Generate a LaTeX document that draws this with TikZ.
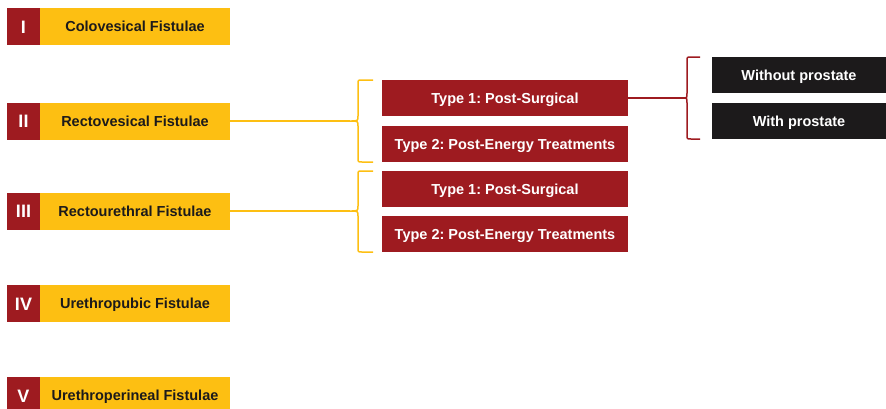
\documentclass[tikz,border=0pt]{standalone}
\usepackage{fontspec}
\setmainfont{Liberation Sans}
\frenchspacing
\usetikzlibrary{positioning, calc}
\definecolor{fred}{HTML}{9E1B20}
\definecolor{fyellow}{HTML}{FDBF12}
\definecolor{fblack}{HTML}{1C1A1B}

\begin{document}
\begin{tikzpicture}[
    x=1pt, y=-1pt,
    node distance=0pt,
    num/.style={rectangle, fill=fred, text=white, minimum width=33pt, minimum height=37pt, inner sep=0pt, outer sep=0pt, text height=13pt, text depth=0pt, font=\bfseries\fontsize{18}{18}\selectfont},
    fist/.style={rectangle, fill=fyellow, text=fblack, minimum width=190pt, minimum height=37pt, inner sep=0pt, outer sep=0pt, text height=10pt, text depth=0pt, font=\bfseries\fontsize{14.5}{14.5}\selectfont},
    kind/.style={rectangle, fill=fred, text=white, minimum width=246pt, minimum height=36pt, inner sep=0pt, outer sep=0pt, text height=10pt, text depth=0pt, font=\bfseries\fontsize{14.5}{14.5}\selectfont},
    sub/.style={rectangle, fill=fblack, text=white, minimum width=174pt, minimum height=36pt, inner sep=0pt, outer sep=0pt, text height=10pt, text depth=0pt, font=\bfseries\fontsize{14.5}{14.5}\selectfont},
    brace/.style={line width=1.5pt, fyellow},
    redbrace/.style={line width=1.5pt, fred}
]
    \useasboundingbox (0,0) rectangle (886,408);

    \node[num] (n1) at (23.5,26.5) {I};
    \node[fist, right=of n1] (f1) {Colovesical Fistulae};
    \node[num] (n2) at (23.5,121) {II};
    \node[fist, right=of n2] (f2) {Rectovesical Fistulae};
    \node[num] (n3) at (23.5,211) {III};
    \node[fist, right=of n3] (f3) {Rectourethral Fistulae};
    \node[num] (n4) at (23.5,303.5) {IV};
    \node[fist, right=of n4] (f4) {Urethropubic Fistulae};
    \node[num] (n5) at (23.5,395.5) {V};
    \node[fist, right=of n5] (f5) {Urethroperineal Fistulae};

    \node[kind] (r2a) at (505,98) {Type 1: Post-Surgical};
    \node[kind, below=10pt of r2a] (r2b) {Type 2: Post-Energy Treatments};
    \node[kind, below=9pt of r2b] (r3a) {Type 1: Post-Surgical};
    \node[kind, below=9pt of r3a] (r3b) {Type 2: Post-Energy Treatments};

    \node[sub] (s1) at (799,75) {Without prostate};
    \node[sub, below=10pt of s1] (s2) {With prostate};

    % Brace tips
    \coordinate (b2) at (350,121);
    \coordinate (b3) at (350,211);
    \coordinate (b4) at (683,98);

    % Braces
    \draw[brace] (373,80) -- (362,80) .. controls (358,80) .. (358,84) -- (358,116) .. controls (358,121) .. (b2)
        .. controls (358,121) .. (358,126) -- (358,158) .. controls (358,162) .. (362,162) -- (373,162);
    \draw[brace] (373,171) -- (362,171) .. controls (358,171) .. (358,175) -- (358,206) .. controls (358,211) .. (b3)
        .. controls (358,211) .. (358,216) -- (358,248) .. controls (358,252) .. (362,252) -- (373,252);
    \draw[redbrace] (700,57) -- (691,57) .. controls (687,57) .. (687,61) -- (687,93) .. controls (687,98) .. (b4)
        .. controls (687,98) .. (687,103) -- (687,135) .. controls (687,139) .. (691,139) -- (700,139);

    % Links
    \draw[brace] (f2.east) -- (b2);
    \draw[brace] (f3.east) -- (b3);
    \draw[redbrace] (r2a.east) -- (b4);
\end{tikzpicture}
\end{document}
